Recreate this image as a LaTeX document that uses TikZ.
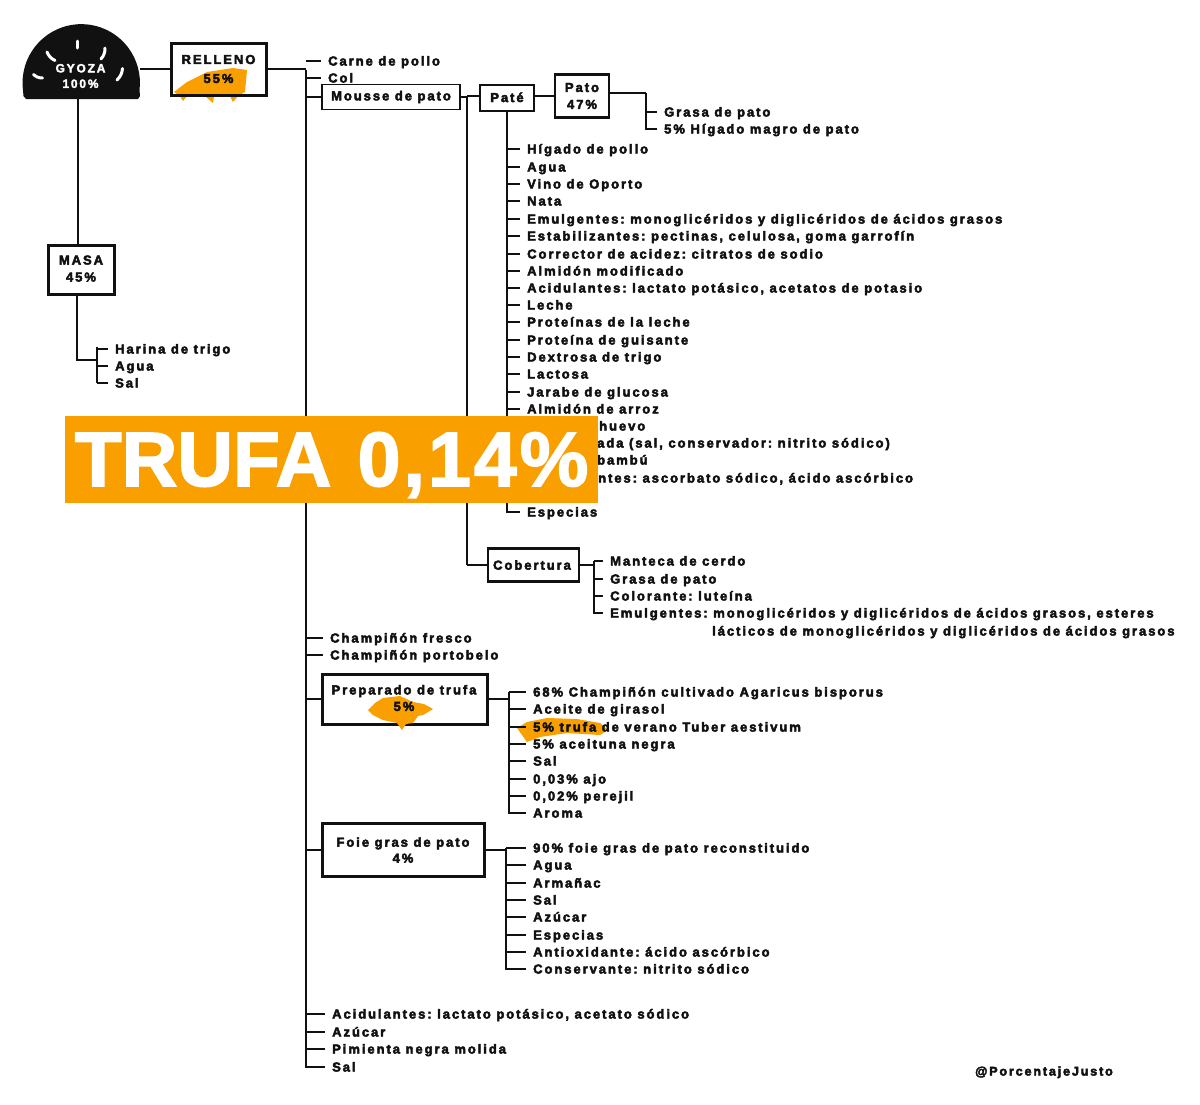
\documentclass[tikz,border=0pt]{standalone}
\usepackage{fontspec}
\setmainfont{Liberation Sans}
\newfontfamily\tfontbase{Liberation Sans}[BoldFont={Liberation Sans Bold},BoldFeatures={LetterSpace=15}]
\newcommand\tfont{\frenchspacing\tfontbase\bfseries}
\newfontfamily\bfont{Liberation Sans}[BoldFont={Liberation Sans Bold},BoldFeatures={LetterSpace=0}]
\newfontfamily\bfontb{Liberation Sans}[BoldFont={Liberation Sans Bold},BoldFeatures={LetterSpace=4}]
\definecolor{trufa}{HTML}{F9A000}
\definecolor{ink}{HTML}{111111}
\tikzset{
 heavy/.style={execute at begin node={\special{pdf:literal 2 Tr #1 w}},execute at end node={\special{pdf:literal 0 Tr}}},
 lab/.style={anchor=west,inner sep=0pt,text height=9pt,text depth=0pt,text=ink,heavy=0.45,font=\tfont\fontsize{13}{14}\selectfont},
 ln/.style={draw=ink,line width=2.2pt},
 box/.style={draw=ink,line width=3pt,fill=white,inner sep=0pt,align=center,heavy=0.45,font=\tfont\fontsize{13}{16}\selectfont,text=ink},
 thinbox/.style={box,line width=1.6pt},
 midbox/.style={box,line width=2.4pt},
 gmark/.style={white,line width=3pt,line cap=round}
}
% name, trunk coordinate, x, y, text
\newcommand\itm[5]{\node[lab] (#1) at (#3,#4) {#5};\draw[ln] (#2 |- #1.west) -- ([xshift=-7pt]#1.west);}
\newcommand\frag[4]{\node[lab] (#1) at (#2,#3) {#4};}
\begin{document}
\begin{tikzpicture}[x=1pt,y=-1pt]
\useasboundingbox (0,0) rectangle (1200,1104);
\fill[white] (0,0) rectangle (1200,1104);
% trunks (named coordinates)
\coordinate (tmain) at (306,70); \coordinate (tmainend) at (306,1068);
\coordinate (tmasa) at (97,347); \coordinate (tmasaend) at (97,383);
\coordinate (tmousse) at (467,96); \coordinate (tmousseend) at (467,565);
\coordinate (tpate) at (507,111); \coordinate (tpateend) at (507,513);
\coordinate (tpato) at (646,93); \coordinate (tpatoend) at (646,130);
\coordinate (tcob) at (594,561); \coordinate (tcobend) at (594,614);
\coordinate (tprep) at (509,692); \coordinate (tprepend) at (509,814);
\coordinate (tfoie) at (506,848); \coordinate (tfoieend) at (506,970);
\foreach \a/\b in {tmain/tmainend,tmasa/tmasaend,tmousse/tmousseend,tpate/tpateend,tpato/tpatoend,tcob/tcobend,tprep/tprepend,tfoie/tfoieend}
  \draw[ln] (\a) -- (\b);

% gyoza
\node[inner sep=0pt,minimum width=117pt,minimum height=74pt] (gyoza) at (81.5,62) {};
\fill[ink] (23,90) arc[start angle=173,end angle=367,radius=58.7] -- (140,96) -- (138,99) -- (26,99) -- (23.5,96) -- cycle;
\draw[gmark] (77,41) -- (77,48);
\draw[gmark] (47,52) to[bend right=20] (55,60.5);
\draw[gmark] (105,48) to[bend left=20] (101,59);
\draw[gmark] (33.5,74.5) to[bend right=20] (42.5,78);
\draw[gmark] (122.5,68.5) to[bend left=20] (117,80);
\node[text=white,inner sep=0pt,align=center,heavy=0.3,font=\tfont\fontsize{12}{15.5}\selectfont] (gtext) at (80.5,76) {GYOZA\\100\%};

% relleno
\fill[trufa] (174,92) -- (187,82) -- (207,72) -- (233,68) -- (247,70) -- (245,92) -- (238,96) -- (233,102) -- (230,96) -- (214,96) -- (213,103) -- (205,96) -- (187,96) -- (183,101) -- (180,96) -- cycle;
\node[box,fill=none,minimum width=95pt,minimum height=52pt,font=\tfont\fontsize{13}{19}\selectfont] (relleno) at (218.5,69) {RELLENO\\55\%};
\draw[ln] (relleno.west) -- (relleno.west -| gyoza.east);
\draw[ln] (relleno.east) -- (relleno.east -| tmain);

% masa
\node[box,minimum width=66pt,minimum height=49pt,text depth=3pt,font=\tfont\fontsize{13}{17}\selectfont] (masa) at (81,270) {MASA\\45\%};
\coordinate (mstem) at (78,244);
\draw[ln] (mstem |- gyoza.south) -- (mstem);
\coordinate (mdown) at (77,360);
\draw[ln] (mdown |- masa.south) -- (mdown) -- (tmasa |- mdown);
\itm{ma1}{tmasa}{115}{349}{Harina de trigo}
\itm{ma2}{tmasa}{115}{366}{Agua}
\itm{ma3}{tmasa}{115}{383}{Sal}

% main list
\itm{r1}{tmain}{328}{61}{Carne de pollo}
\itm{r2}{tmain}{328}{78}{Col}
\node[thinbox,minimum width=138pt,minimum height=25pt] (mousse) at (391,97) {Mousse de pato};
\draw[ln] (mousse.west) -- (mousse.west -| tmain);
\itm{r4}{tmain}{330}{638}{Champiñón fresco}
\itm{r5}{tmain}{330}{655}{Champiñón portobelo}
\itm{r6}{tmain}{332}{1014}{Acidulantes: lactato potásico, acetato sódico}
\itm{r7}{tmain}{332}{1032}{Azúcar}
\itm{r8}{tmain}{332}{1049}{Pimienta negra molida}
\itm{r9}{tmain}{332}{1067}{Sal}

% pate
\node[midbox,minimum width=54pt,minimum height=26pt] (pate) at (507,98) {\raisebox{1.5pt}{Paté}};
\draw[ln] (mousse.east) -- (mousse.east -| tmousse);
\draw[ln] (tmousse) -- (pate.west |- tmousse);
\draw[ln] (pate.south -| tpate) -- (tpate);
\node[midbox,minimum width=54pt,minimum height=43pt,font=\tfont\fontsize{13}{17}\selectfont] (pato) at (582,96) {Pato\\47\%};
\draw[ln] (pate.east |- pato.west) -- (pato.west);
\draw[ln] (pato.east |- tpato) -- (tpato);
\itm{pa1}{tpato}{664}{112}{Grasa de pato}
\itm{pa2}{tpato}{664}{129}{5\% Hígado magro de pato}

\itm{p1}{tpate}{527}{149}{Hígado de pollo}
\itm{p2}{tpate}{527}{167}{Agua}
\itm{p3}{tpate}{527}{184}{Vino de Oporto}
\itm{p4}{tpate}{527}{201}{Nata}
\itm{p5}{tpate}{527}{219}{Emulgentes: monoglicéridos y diglicéridos de ácidos grasos}
\itm{p6}{tpate}{527}{236}{Estabilizantes: pectinas, celulosa, goma garrofín}
\itm{p7}{tpate}{527}{254}{Corrector de acidez: citratos de sodio}
\itm{p8}{tpate}{527}{271}{Almidón modificado}
\itm{p9}{tpate}{527}{288}{Acidulantes: lactato potásico, acetatos de potasio}
\itm{p10}{tpate}{527}{305}{Leche}
\itm{p11}{tpate}{527}{322}{Proteínas de la leche}
\itm{p12}{tpate}{527}{340}{Proteína de guisante}
\itm{p13}{tpate}{527}{357}{Dextrosa de trigo}
\itm{p14}{tpate}{527}{374}{Lactosa}
\itm{p15}{tpate}{527}{392}{Jarabe de glucosa}
\itm{p16}{tpate}{527}{409}{Almidón de arroz}
\frag{p17}{599}{426}{huevo}
\frag{p18}{597}{443}{ada (sal, conservador: nitrito sódico)}
\frag{p19}{597}{460}{bambú}
\frag{p20}{598}{478}{ntes: ascorbato sódico, ácido ascórbico}
\itm{p21}{tpate}{527}{512}{Especias}

% cobertura
\node[midbox,minimum width=91pt,minimum height=33pt] (cob) at (533.5,565) {\hspace*{-3pt}Cobertura};
\draw[ln] (tmousseend) -- (cob.west |- tmousseend);
\draw[ln] (cob.east) -- (cob.east -| tcob);
\itm{c1}{tcob}{610}{561}{Manteca de cerdo}
\itm{c2}{tcob}{610}{579}{Grasa de pato}
\itm{c3}{tcob}{610}{596}{Colorante: luteína}
\itm{c4}{tcob}{610}{613}{Emulgentes: monoglicéridos y diglicéridos de ácidos grasos, esteres}
\frag{c5}{712}{631}{lácticos de monoglicéridos y diglicéridos de ácidos grasos}

% preparado
\node[box,minimum width=165pt,minimum height=50pt] (prep) at (404.5,699) {};
\fill[trufa] (368,710) -- (375,703) -- (383,698) -- (400,696) -- (413,702) -- (424,704) -- (433,709) -- (423,715) -- (418,716) -- (413,723) -- (406,724) -- (402,730) -- (397,723) -- (383,720) -- (373,715) -- cycle;
\node[inner sep=0pt,align=center,heavy=0.45,font=\tfont\fontsize{13}{16.5}\selectfont,text=ink] (preptext) at (404,698) {Preparado de trufa\\5\%};
\draw[ln] (prep.west) -- (prep.west -| tmain);
\draw[ln] (prep.east) -- (prep.east -| tprep);
\fill[trufa] (517,728) -- (527,722) -- (547,718) -- (577,719) -- (600,723) -- (608,730) -- (600,735) -- (567,733) -- (540,737) -- (527,742) -- (522,735) -- cycle;
\itm{t1}{tprep}{533}{692}{68\% Champiñón cultivado Agaricus bisporus}
\itm{t2}{tprep}{533}{709}{Aceite de girasol}
\itm{t3}{tprep}{533}{727}{5\% trufa de verano Tuber aestivum}
\itm{t4}{tprep}{533}{744}{5\% aceituna negra}
\itm{t5}{tprep}{533}{761}{Sal}
\itm{t6}{tprep}{533}{779}{0,03\% ajo}
\itm{t7}{tprep}{533}{796}{0,02\% perejil}
\itm{t8}{tprep}{533}{813}{Aroma}

% foie
\node[box,minimum width=162pt,minimum height=53pt] (foie) at (403,850) {Foie gras de pato\\4\%};
\draw[ln] (foie.west) -- (foie.west -| tmain);
\draw[ln] (foie.east) -- (foie.east -| tfoie);
\itm{f1}{tfoie}{533}{848}{90\% foie gras de pato reconstituido}
\itm{f2}{tfoie}{533}{865}{Agua}
\itm{f3}{tfoie}{533}{883}{Armañac}
\itm{f4}{tfoie}{533}{900}{Sal}
\itm{f5}{tfoie}{533}{917}{Azúcar}
\itm{f6}{tfoie}{533}{935}{Especias}
\itm{f7}{tfoie}{533}{952}{Antioxidante: ácido ascórbico}
\itm{f8}{tfoie}{533}{969}{Conservante: nitrito sódico}

\node[lab,font=\tfont\fontsize{12.5}{13}\selectfont] (firma) at (975,1071) {@PorcentajeJusto};

% banner
\node[fill=trufa,inner sep=0pt,minimum width=533pt,minimum height=87pt] (banner) at (331,459.5) {};
\node[inner sep=0pt,text=white,heavy=1.6,font=\bfseries\fontsize{77}{80}\selectfont,anchor=base west] (bannertext) at (74.5,486) {\bfont\bfseries TRUFA \kern5pt\bfontb\bfseries 0,14\%};
\end{tikzpicture}
\end{document}
